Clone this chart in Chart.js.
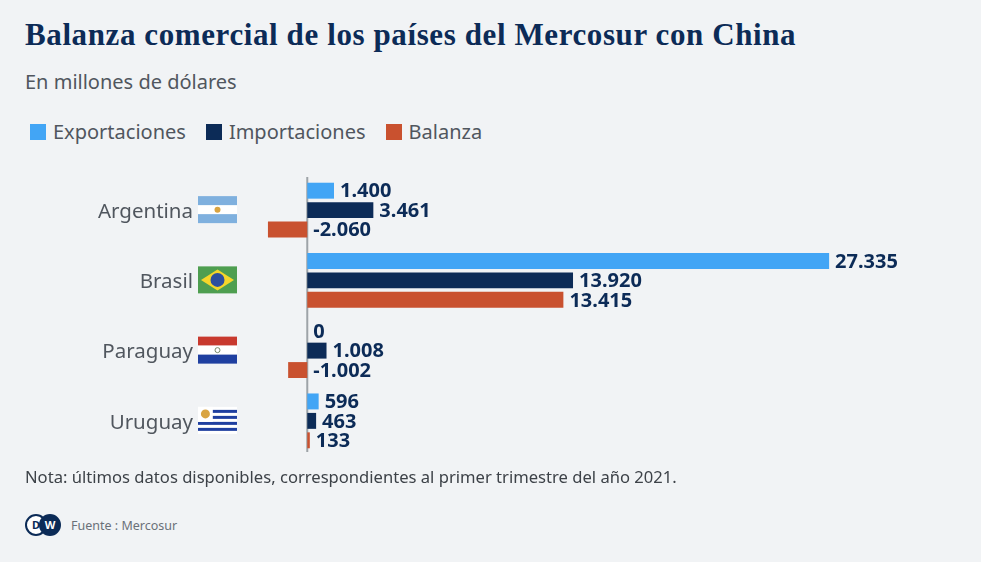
<!DOCTYPE html>
<html lang="es">
<head>
<meta charset="utf-8">
<script src="https://cdn.jsdelivr.net/npm/chart.js@4"></script>
<style>
  html, body { margin: 0; padding: 0; }
  body { width: 981px; height: 562px; background: #f1f3f5; position: relative; overflow: hidden; font-family: "Noto Sans", sans-serif; }
  .title { position: absolute; left: 25px; top: 17px; font-family: "Liberation Serif", serif; font-weight: bold; font-size: 31px; letter-spacing: 0.6px; color: #0c2b57; white-space: nowrap; }
  .sub { position: absolute; left: 25px; top: 68px; font-size: 20px; color: #50565e; }
  .legend { position: absolute; left: 30px; top: 118px; font-size: 20px; color: #50565e; display: flex; }
  .legend span.item { display: flex; align-items: center; margin-right: 20px; }
  .legend i { display: inline-block; width: 16px; height: 16px; margin-right: 7px; }
  .note { position: absolute; left: 25px; top: 465px; font-size: 16.6px; color: #3d4248; }
  .foot { position: absolute; left: 25px; top: 514px; display: flex; align-items: center; font-size: 12.5px; color: #6a7078; }
  .logo { position: relative; width: 38px; height: 22px; margin-right: 8px; }
  .logo b { position: absolute; top: 0; width: 18px; height: 18px; border-radius: 50%; background: #0c2b57; border: 2px solid #0c2b57; color: #fff; font: bold 11px "Noto Sans", sans-serif; line-height: 18px; text-align: center; }
  .logo b.d { left: 0; background: #fff; color: #0c2b57; box-shadow: inset 0 0 0 2px #fff; }
  .logo b.w { left: 14px; }
  canvas { position: absolute; left: 0; top: 160px; }
</style>
</head>
<body>
<div class="title">Balanza comercial de los países del Mercosur con China</div>
<div class="sub">En millones de dólares</div>
<div class="legend">
  <span class="item"><i style="background:#42a5f5"></i>Exportaciones</span>
  <span class="item"><i style="background:#0c2b57"></i>Importaciones</span>
  <span class="item"><i style="background:#c9512f"></i>Balanza</span>
</div>
<canvas id="chart" width="981" height="310"></canvas>
<div class="note">Nota: últimos datos disponibles, correspondientes al primer trimestre del año 2021.</div>
<div class="foot"><span class="logo"><b class="d">D</b><b class="w">W</b></span>Fuente : Mercosur</div>
<script>
const categories = ['Argentina', 'Brasil', 'Paraguay', 'Uruguay'];
const exportaciones = [1400, 27335, 0, 596];
const importaciones = [3461, 13920, 1008, 463];
const balanza = [-2060, 13415, -1002, 133];

const colors = ['#42a5f5', '#0c2b57', '#c9512f'];

function formatNum(v) {
    const s = Math.abs(v).toString().replace(/\B(?=(\d{3})+(?!\d))/g, '.');
    return (v < 0 ? '-' : '') + s;
}

// simple flags, drawn next to the category names
function drawFlag(ctx, name, x, y, w, h) {
    ctx.save();
    if (name === 'Argentina') {
        ctx.fillStyle = '#7fb0de'; ctx.fillRect(x, y, w, h);
        ctx.fillStyle = '#fff'; ctx.fillRect(x, y + h / 3, w, h / 3);
        ctx.fillStyle = '#d9a441'; ctx.beginPath(); ctx.arc(x + w / 2, y + h / 2, 3, 0, Math.PI * 2); ctx.fill();
    } else if (name === 'Brasil') {
        ctx.fillStyle = '#4e9e50'; ctx.fillRect(x, y, w, h);
        ctx.fillStyle = '#f5d52a'; ctx.beginPath();
        ctx.moveTo(x + 3, y + h / 2); ctx.lineTo(x + w / 2, y + 3); ctx.lineTo(x + w - 3, y + h / 2); ctx.lineTo(x + w / 2, y + h - 3);
        ctx.closePath(); ctx.fill();
        ctx.fillStyle = '#2e4f9e'; ctx.beginPath(); ctx.arc(x + w / 2, y + h / 2, 7, 0, Math.PI * 2); ctx.fill();
    } else if (name === 'Paraguay') {
        ctx.fillStyle = '#c8392e'; ctx.fillRect(x, y, w, h / 3);
        ctx.fillStyle = '#fff'; ctx.fillRect(x, y + h / 3, w, h / 3);
        ctx.fillStyle = '#1f3fa0'; ctx.fillRect(x, y + 2 * h / 3, w, h / 3);
        ctx.strokeStyle = '#7a8a6a'; ctx.lineWidth = 1; ctx.beginPath(); ctx.arc(x + w / 2, y + h / 2, 2.5, 0, Math.PI * 2); ctx.stroke();
    } else {
        ctx.fillStyle = '#fff'; ctx.fillRect(x, y, w, h);
        ctx.fillStyle = '#1f3fa0';
        for (let i = 1; i < 9; i += 2) ctx.fillRect(x, y + i * h / 9, w, h / 9);
        ctx.fillStyle = '#fff'; ctx.fillRect(x, y, w * 0.38, h * 5 / 9);
        ctx.fillStyle = '#d9a441'; ctx.beginPath(); ctx.arc(x + w * 0.19, y + h * 0.26, 4.5, 0, Math.PI * 2); ctx.fill();
    }
    ctx.restore();
}

const decorPlugin = {
    id: 'decor',
    beforeDatasetsDraw(chart) {
        const ctx = chart.ctx;
        const x0 = chart.scales.x.getPixelForValue(0);
        ctx.save();
        ctx.strokeStyle = '#9ea3a8';
        ctx.lineWidth = 2;
        ctx.beginPath();
        ctx.moveTo(x0, chart.chartArea.top + 2);
        ctx.lineTo(x0, chart.chartArea.bottom - 4);
        ctx.stroke();
        ctx.restore();
    },
    afterDatasetsDraw(chart) {
        const ctx = chart.ctx;
        const xs = chart.scales.x, ys = chart.scales.y;
        const x0 = xs.getPixelForValue(0);
        ctx.save();
        // category names and flags
        categories.forEach((c, i) => {
            const y = ys.getPixelForValue(i);
            ctx.font = '20.5px "Noto Sans"';
            ctx.fillStyle = '#50565e';
            ctx.textAlign = 'right';
            ctx.textBaseline = 'middle';
            ctx.fillText(c, 193, y + 2);
            drawFlag(ctx, c, 198, y - 14, 39, 27);
        });
        // value labels
        ctx.font = 'bold 20px "Noto Sans"';
        ctx.fillStyle = '#0c2b57';
        ctx.textAlign = 'left';
        chart.data.datasets.forEach((ds, di) => {
            const meta = chart.getDatasetMeta(di);
            meta.data.forEach((bar, i) => {
                const v = ds.data[i];
                const x = Math.max(xs.getPixelForValue(v), x0) + 6;
                ctx.fillText(formatNum(v), x, bar.y + 1);
            });
        });
        ctx.restore();
    }
};

new Chart(document.getElementById('chart'), {
    type: 'bar',
    data: {
        labels: categories,
        datasets: [
            { label: 'Exportaciones', data: exportaciones, backgroundColor: colors[0] },
            { label: 'Importaciones', data: importaciones, backgroundColor: colors[1] },
            { label: 'Balanza', data: balanza, backgroundColor: colors[2] }
        ]
    },
    options: {
        indexAxis: 'y',
        responsive: false,
        animation: false,
        categoryPercentage: 0.83,
        barPercentage: 0.82,
        layout: { padding: { left: 250, right: 101, top: 15, bottom: 14 } },
        plugins: { legend: { display: false }, tooltip: { enabled: false } },
        scales: {
            x: { display: false, min: -3000, max: 30000 },
            y: { display: false }
        }
    },
    plugins: [decorPlugin]
});
</script>
</body>
</html>
